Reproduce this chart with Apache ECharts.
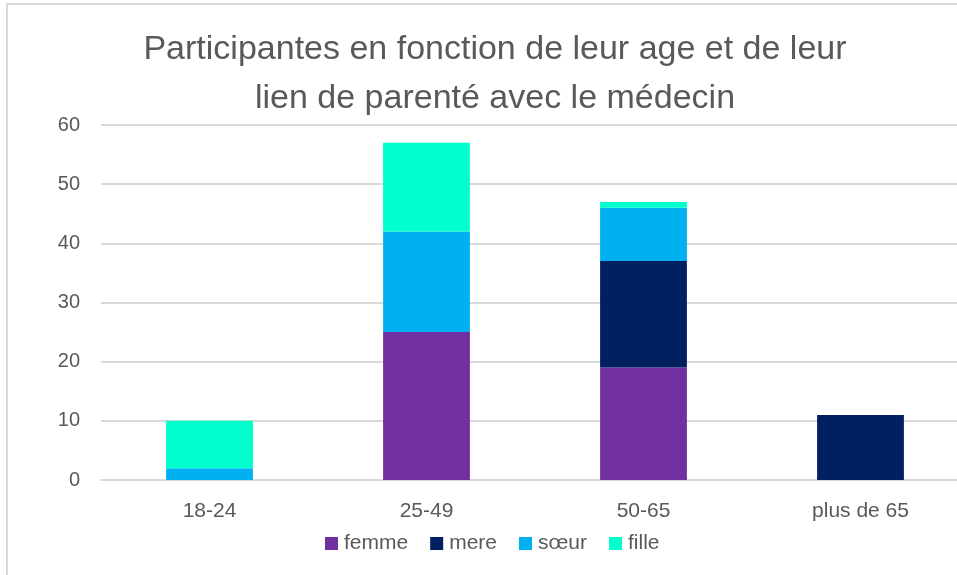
<!DOCTYPE html>
<html>
<head>
<meta charset="utf-8">
<script src="https://cdn.jsdelivr.net/npm/echarts@6/dist/echarts.min.js"></script>
<style>
  html, body { margin: 0; padding: 0; background: #fff; overflow: hidden; }
  /* la zone de tracé déborde à droite comme dans l'original */
  #myChart { width: 969px; height: 575px; }
</style>
</head>
<body>
<div id="myChart"></div>
<script>
// catégories d'âge
var categories = ['18-24', '25-49', '50-65', 'plus de 65'];
// valeurs par lien de parenté
var femme = [0, 25, 19, 0];
var mere = [0, 0, 18, 11];
var soeur = [2, 17, 9, 0];
var fille = [8, 15, 1, 0];

var myChart = echarts.init(document.getElementById('myChart'));

function barSerie (name, data, color) {
  return {
    name: name,
    type: 'bar',
    stack: 'total',
    data: data,
    barWidth: '40%',
    itemStyle: { color: color },
    emphasis: { disabled: true }
  };
}

var option = {
  animation: false,
  textStyle: { fontFamily: 'Liberation Sans' },
  title: {
    text: 'Participantes en fonction de leur age et de leur\nlien de parenté avec le médecin',
    left: 490,
    textAlign: 'center',
    top: 20,
    textStyle: {
      color: '#595959',
      fontSize: 34,
      fontWeight: 'normal',
      lineHeight: 49
    }
  },
  graphic: [
    { type: 'line', shape: { x1: 7, y1: 4, x2: 7, y2: 575 }, style: { stroke: '#d9d9d9', lineWidth: 2 } },
    { type: 'line', shape: { x1: 6, y1: 4, x2: 969, y2: 4 }, style: { stroke: '#d9d9d9', lineWidth: 2 } }
  ],
  legend: {
    data: ['femme', 'mere', 'sœur', 'fille'],
    bottom: 16,
    left: 320,
    itemWidth: 13,
    itemHeight: 13,
    itemGap: 22,
    icon: 'rect',
    textStyle: { color: '#595959', fontSize: 21, padding: [0, 0, 0, 1] }
  },
  grid: {
    left: 101,
    right: 0,
    top: 125,
    bottom: 95
  },
  xAxis: {
    type: 'category',
    data: categories,
    axisLine: { lineStyle: { color: '#d9d9d9', width: 2 } },
    axisTick: { show: false },
    axisLabel: { color: '#595959', fontSize: 21, margin: 21 }
  },
  yAxis: {
    type: 'value',
    min: 0,
    max: 60,
    interval: 10,
    axisLine: { show: false },
    axisTick: { show: false },
    axisLabel: { color: '#595959', fontSize: 20, margin: 21 },
    splitLine: { lineStyle: { color: '#d9d9d9', width: 2 } }
  },
  series: [
    barSerie('femme', femme, '#7030a0'),
    barSerie('mere', mere, '#002060'),
    barSerie('sœur', soeur, '#00b0f0'),
    barSerie('fille', fille, '#00ffcc')
  ]
};

myChart.setOption(option);
</script>
</body>
</html>
